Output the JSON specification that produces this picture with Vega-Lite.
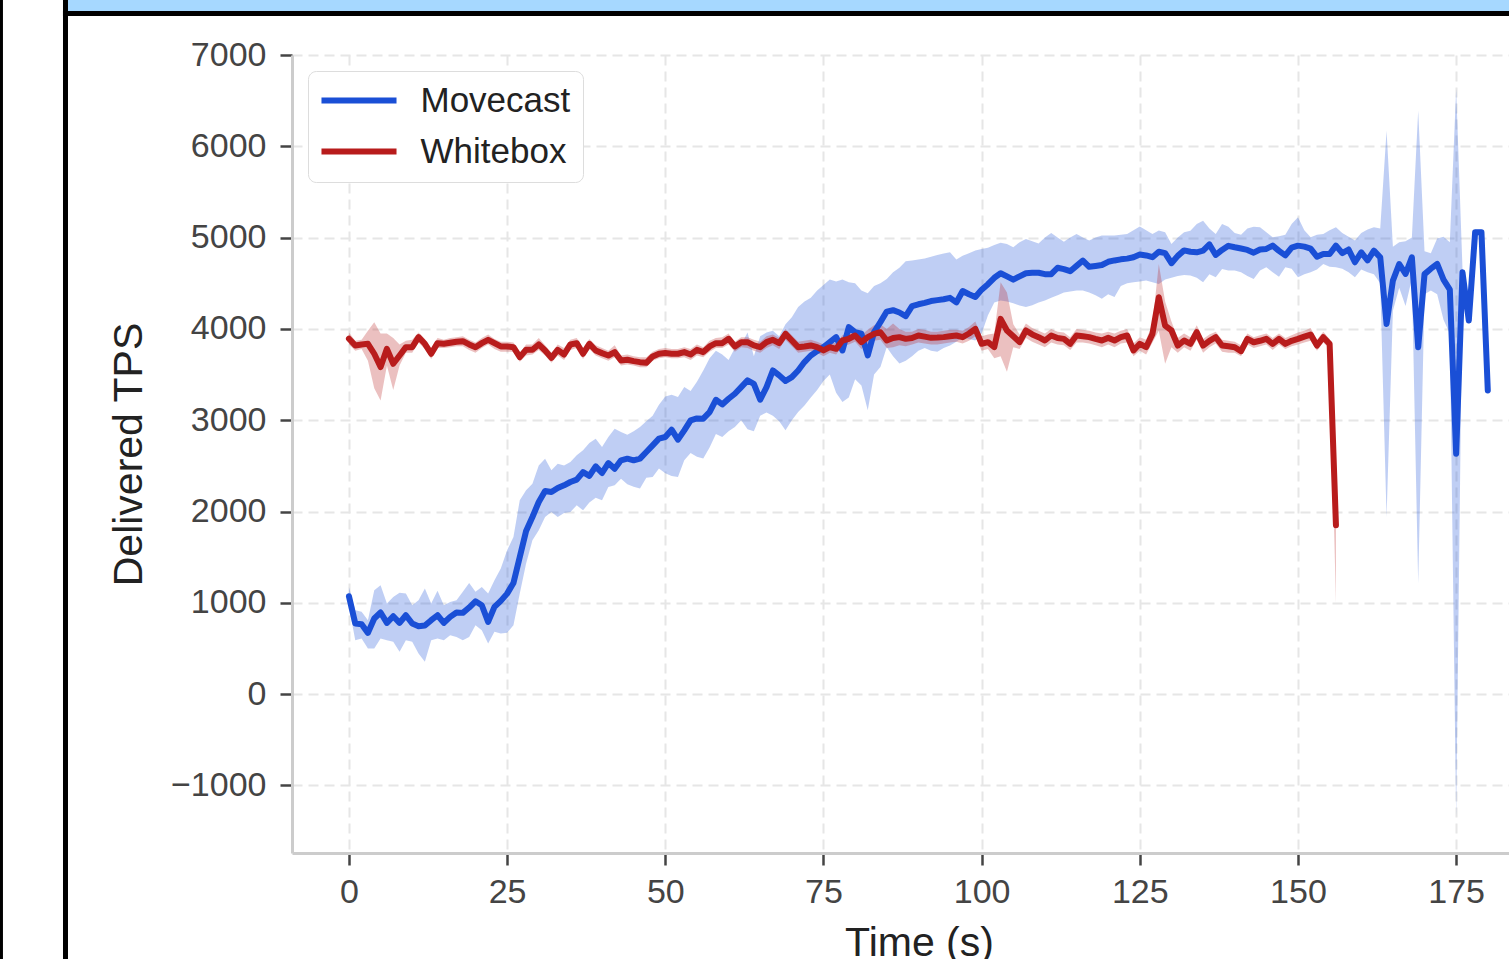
{
 "$schema": "https://vega.github.io/schema/vega-lite/v6.json",
 "width": 1254, "height": 798,
 "autosize": {"type": "none"},
 "padding": {"left": 292, "top": 55, "right": -37, "bottom": 106},
 "background": "white",
 "config": {
  "font": "Liberation Sans",
  "view": {"stroke": null},
  "axis": {"domainColor": "#cccccc", "domainWidth": 3, "tickColor": "#444444", "tickWidth": 2.5, "tickSize": 12,
   "labelFontSize": 34, "labelColor": "#444444", "grid": true, "gridColor": "#e6e6e6", "gridDash": [10, 6], "gridWidth": 2,
   "titleFontSize": 41, "titleFontWeight": "normal", "titleColor": "#222222"},
  "legend": {"symbolType": "M-2.68,0H2.68", "symbolStrokeWidth": 6, "symbolSize": 784, "symbolOffset": 21.5,
   "labelFontSize": 35, "labelColor": "#222222",
   "labelOffset": 44, "padding": 12, "rowPadding": 15, "fillColor": "white", "strokeColor": "#dddddd", "cornerRadius": 8}
 },
 "datasets": {
  "tps": [
{"series":"Movecast","t":0,"mean":1072,"lo":960,"hi":1174},
{"series":"Movecast","t":1,"mean":773,"lo":591,"hi":919},
{"series":"Movecast","t":2,"mean":766,"lo":609,"hi":901},
{"series":"Movecast","t":3,"mean":671,"lo":500,"hi":810},
{"series":"Movecast","t":4,"mean":828,"lo":500,"hi":1138},
{"series":"Movecast","t":5,"mean":894,"lo":609,"hi":1193},
{"series":"Movecast","t":6,"mean":780,"lo":591,"hi":992},
{"series":"Movecast","t":7,"mean":853,"lo":573,"hi":1065},
{"series":"Movecast","t":8,"mean":780,"lo":463,"hi":1109},
{"series":"Movecast","t":9,"mean":864,"lo":591,"hi":1101},
{"series":"Movecast","t":10,"mean":773,"lo":573,"hi":974},
{"series":"Movecast","t":11,"mean":744,"lo":445,"hi":1028},
{"series":"Movecast","t":12,"mean":751,"lo":354,"hi":1156},
{"series":"Movecast","t":13,"mean":810,"lo":591,"hi":992},
{"series":"Movecast","t":14,"mean":864,"lo":609,"hi":1131},
{"series":"Movecast","t":15,"mean":780,"lo":591,"hi":974},
{"series":"Movecast","t":16,"mean":846,"lo":646,"hi":1010},
{"series":"Movecast","t":17,"mean":894,"lo":627,"hi":1028},
{"series":"Movecast","t":18,"mean":890,"lo":591,"hi":1120},
{"series":"Movecast","t":19,"mean":948,"lo":627,"hi":1218},
{"series":"Movecast","t":20,"mean":1017,"lo":755,"hi":1120},
{"series":"Movecast","t":21,"mean":974,"lo":700,"hi":1174},
{"series":"Movecast","t":22,"mean":791,"lo":554,"hi":1101},
{"series":"Movecast","t":23,"mean":955,"lo":682,"hi":1247},
{"series":"Movecast","t":24,"mean":1021,"lo":664,"hi":1375},
{"series":"Movecast","t":25,"mean":1101,"lo":671,"hi":1575},
{"series":"Movecast","t":26,"mean":1218,"lo":755,"hi":1721},
{"series":"Movecast","t":27,"mean":1502,"lo":1101,"hi":2123},
{"series":"Movecast","t":28,"mean":1787,"lo":1430,"hi":2232},
{"series":"Movecast","t":29,"mean":1940,"lo":1685,"hi":2305},
{"series":"Movecast","t":30,"mean":2104,"lo":1794,"hi":2505},
{"series":"Movecast","t":31,"mean":2224,"lo":1940,"hi":2578},
{"series":"Movecast","t":32,"mean":2213,"lo":1995,"hi":2451},
{"series":"Movecast","t":33,"mean":2257,"lo":1940,"hi":2524},
{"series":"Movecast","t":34,"mean":2287,"lo":1984,"hi":2505},
{"series":"Movecast","t":35,"mean":2323,"lo":1995,"hi":2542},
{"series":"Movecast","t":36,"mean":2349,"lo":2068,"hi":2615},
{"series":"Movecast","t":37,"mean":2432,"lo":2013,"hi":2670},
{"series":"Movecast","t":38,"mean":2390,"lo":2100,"hi":2750},
{"series":"Movecast","t":39,"mean":2495,"lo":2150,"hi":2798},
{"series":"Movecast","t":40,"mean":2422,"lo":2123,"hi":2706},
{"series":"Movecast","t":41,"mean":2531,"lo":2269,"hi":2816},
{"series":"Movecast","t":42,"mean":2469,"lo":2287,"hi":2907},
{"series":"Movecast","t":43,"mean":2561,"lo":2360,"hi":2871},
{"series":"Movecast","t":44,"mean":2579,"lo":2300,"hi":2840},
{"series":"Movecast","t":45,"mean":2561,"lo":2270,"hi":2880},
{"series":"Movecast","t":46,"mean":2579,"lo":2251,"hi":2925},
{"series":"Movecast","t":47,"mean":2652,"lo":2370,"hi":2990},
{"series":"Movecast","t":48,"mean":2725,"lo":2378,"hi":3050},
{"series":"Movecast","t":49,"mean":2798,"lo":2470,"hi":3170},
{"series":"Movecast","t":50,"mean":2816,"lo":2420,"hi":3260},
{"series":"Movecast","t":51,"mean":2896,"lo":2390,"hi":3280},
{"series":"Movecast","t":52,"mean":2787,"lo":2378,"hi":3254},
{"series":"Movecast","t":53,"mean":2889,"lo":2561,"hi":3363},
{"series":"Movecast","t":54,"mean":2998,"lo":2640,"hi":3320},
{"series":"Movecast","t":55,"mean":3020,"lo":2600,"hi":3420},
{"series":"Movecast","t":56,"mean":3017,"lo":2580,"hi":3545},
{"series":"Movecast","t":57,"mean":3089,"lo":2700,"hi":3680},
{"series":"Movecast","t":58,"mean":3224,"lo":2850,"hi":3760},
{"series":"Movecast","t":59,"mean":3173,"lo":2816,"hi":3720},
{"series":"Movecast","t":60,"mean":3235,"lo":2880,"hi":3660},
{"series":"Movecast","t":61,"mean":3290,"lo":2925,"hi":3790},
{"series":"Movecast","t":62,"mean":3363,"lo":3000,"hi":3830},
{"series":"Movecast","t":63,"mean":3436,"lo":2900,"hi":3960},
{"series":"Movecast","t":64,"mean":3399,"lo":2880,"hi":3700},
{"series":"Movecast","t":65,"mean":3224,"lo":3050,"hi":3920},
{"series":"Movecast","t":66,"mean":3363,"lo":3085,"hi":3960},
{"series":"Movecast","t":67,"mean":3545,"lo":3050,"hi":3980},
{"series":"Movecast","t":68,"mean":3491,"lo":2990,"hi":3920},
{"series":"Movecast","t":69,"mean":3429,"lo":2890,"hi":4050},
{"series":"Movecast","t":70,"mean":3472,"lo":3000,"hi":4129},
{"series":"Movecast","t":71,"mean":3545,"lo":3089,"hi":4240},
{"series":"Movecast","t":72,"mean":3637,"lo":3160,"hi":4300},
{"series":"Movecast","t":73,"mean":3709,"lo":3250,"hi":4340},
{"series":"Movecast","t":74,"mean":3757,"lo":3330,"hi":4420},
{"series":"Movecast","t":75,"mean":3801,"lo":3430,"hi":4480},
{"series":"Movecast","t":76,"mean":3855,"lo":3500,"hi":4540},
{"series":"Movecast","t":77,"mean":3910,"lo":3300,"hi":4520},
{"series":"Movecast","t":78,"mean":3764,"lo":3200,"hi":4540},
{"series":"Movecast","t":79,"mean":4019,"lo":3250,"hi":4510},
{"series":"Movecast","t":80,"mean":3965,"lo":3450,"hi":4500},
{"series":"Movecast","t":81,"mean":3947,"lo":3380,"hi":4420},
{"series":"Movecast","t":82,"mean":3709,"lo":3110,"hi":4390},
{"series":"Movecast","t":83,"mean":3965,"lo":3500,"hi":4470},
{"series":"Movecast","t":84,"mean":4074,"lo":3582,"hi":4500},
{"series":"Movecast","t":85,"mean":4190,"lo":3800,"hi":4548},
{"series":"Movecast","t":86,"mean":4205,"lo":3700,"hi":4620},
{"series":"Movecast","t":87,"mean":4180,"lo":3620,"hi":4670},
{"series":"Movecast","t":88,"mean":4140,"lo":3650,"hi":4740},
{"series":"Movecast","t":89,"mean":4250,"lo":3700,"hi":4750},
{"series":"Movecast","t":90,"mean":4270,"lo":3760,"hi":4760},
{"series":"Movecast","t":91,"mean":4285,"lo":3790,"hi":4770},
{"series":"Movecast","t":92,"mean":4305,"lo":3760,"hi":4790},
{"series":"Movecast","t":93,"mean":4315,"lo":3750,"hi":4810},
{"series":"Movecast","t":94,"mean":4325,"lo":3790,"hi":4825},
{"series":"Movecast","t":95,"mean":4340,"lo":3818,"hi":4840},
{"series":"Movecast","t":96,"mean":4290,"lo":3860,"hi":4760},
{"series":"Movecast","t":97,"mean":4415,"lo":3910,"hi":4800},
{"series":"Movecast","t":98,"mean":4380,"lo":3890,"hi":4830},
{"series":"Movecast","t":99,"mean":4350,"lo":3873,"hi":4860},
{"series":"Movecast","t":100,"mean":4430,"lo":3950,"hi":4876},
{"series":"Movecast","t":101,"mean":4490,"lo":4150,"hi":4890},
{"series":"Movecast","t":102,"mean":4560,"lo":4290,"hi":4920},
{"series":"Movecast","t":103,"mean":4610,"lo":4311,"hi":4945},
{"series":"Movecast","t":104,"mean":4575,"lo":4300,"hi":4930},
{"series":"Movecast","t":105,"mean":4540,"lo":4280,"hi":4894},
{"series":"Movecast","t":106,"mean":4575,"lo":4256,"hi":4950},
{"series":"Movecast","t":107,"mean":4610,"lo":4240,"hi":4986},
{"series":"Movecast","t":108,"mean":4615,"lo":4260,"hi":4960},
{"series":"Movecast","t":109,"mean":4615,"lo":4290,"hi":4935},
{"series":"Movecast","t":110,"mean":4600,"lo":4310,"hi":5000},
{"series":"Movecast","t":111,"mean":4600,"lo":4340,"hi":5050},
{"series":"Movecast","t":112,"mean":4670,"lo":4370,"hi":5000},
{"series":"Movecast","t":113,"mean":4655,"lo":4400,"hi":4955},
{"series":"Movecast","t":114,"mean":4632,"lo":4410,"hi":5000},
{"series":"Movecast","t":115,"mean":4690,"lo":4420,"hi":5040},
{"series":"Movecast","t":116,"mean":4749,"lo":4420,"hi":5000},
{"series":"Movecast","t":117,"mean":4680,"lo":4400,"hi":4967},
{"series":"Movecast","t":118,"mean":4690,"lo":4370,"hi":5000},
{"series":"Movecast","t":119,"mean":4700,"lo":4330,"hi":5022},
{"series":"Movecast","t":120,"mean":4735,"lo":4380,"hi":5022},
{"series":"Movecast","t":121,"mean":4750,"lo":4350,"hi":5022},
{"series":"Movecast","t":122,"mean":4762,"lo":4470,"hi":5030},
{"series":"Movecast","t":123,"mean":4770,"lo":4500,"hi":5040},
{"series":"Movecast","t":124,"mean":4785,"lo":4511,"hi":5080},
{"series":"Movecast","t":125,"mean":4815,"lo":4520,"hi":5121},
{"series":"Movecast","t":126,"mean":4805,"lo":4530,"hi":5080},
{"series":"Movecast","t":127,"mean":4785,"lo":4510,"hi":5040},
{"series":"Movecast","t":128,"mean":4845,"lo":4493,"hi":5077},
{"series":"Movecast","t":129,"mean":4830,"lo":4540,"hi":5060},
{"series":"Movecast","t":130,"mean":4720,"lo":4560,"hi":4931},
{"series":"Movecast","t":131,"mean":4800,"lo":4580,"hi":5000},
{"series":"Movecast","t":132,"mean":4860,"lo":4590,"hi":5059},
{"series":"Movecast","t":133,"mean":4845,"lo":4584,"hi":5076},
{"series":"Movecast","t":134,"mean":4839,"lo":4560,"hi":5150},
{"series":"Movecast","t":135,"mean":4857,"lo":4511,"hi":5186},
{"series":"Movecast","t":136,"mean":4925,"lo":4600,"hi":5100},
{"series":"Movecast","t":137,"mean":4810,"lo":4566,"hi":5040},
{"series":"Movecast","t":138,"mean":4865,"lo":4657,"hi":5150},
{"series":"Movecast","t":139,"mean":4910,"lo":4640,"hi":5120},
{"series":"Movecast","t":140,"mean":4894,"lo":4639,"hi":5050},
{"series":"Movecast","t":141,"mean":4880,"lo":4620,"hi":5030},
{"series":"Movecast","t":142,"mean":4865,"lo":4580,"hi":5100},
{"series":"Movecast","t":143,"mean":4835,"lo":4547,"hi":5120},
{"series":"Movecast","t":144,"mean":4870,"lo":4640,"hi":5113},
{"series":"Movecast","t":145,"mean":4876,"lo":4675,"hi":5060},
{"series":"Movecast","t":146,"mean":4912,"lo":4620,"hi":5003},
{"series":"Movecast","t":147,"mean":4855,"lo":4570,"hi":5015},
{"series":"Movecast","t":148,"mean":4805,"lo":4675,"hi":5030},
{"series":"Movecast","t":149,"mean":4890,"lo":4660,"hi":5150},
{"series":"Movecast","t":150,"mean":4912,"lo":4566,"hi":5222},
{"series":"Movecast","t":151,"mean":4901,"lo":4600,"hi":5080},
{"series":"Movecast","t":152,"mean":4880,"lo":4620,"hi":5003},
{"series":"Movecast","t":153,"mean":4790,"lo":4650,"hi":5030},
{"series":"Movecast","t":154,"mean":4821,"lo":4711,"hi":5040},
{"series":"Movecast","t":155,"mean":4821,"lo":4680,"hi":5080},
{"series":"Movecast","t":156,"mean":4912,"lo":4675,"hi":5113},
{"series":"Movecast","t":157,"mean":4830,"lo":4660,"hi":5050},
{"series":"Movecast","t":158,"mean":4870,"lo":4620,"hi":5010},
{"series":"Movecast","t":159,"mean":4730,"lo":4566,"hi":4967},
{"series":"Movecast","t":160,"mean":4839,"lo":4650,"hi":5050},
{"series":"Movecast","t":161,"mean":4750,"lo":4620,"hi":5090},
{"series":"Movecast","t":162,"mean":4857,"lo":4600,"hi":5113},
{"series":"Movecast","t":163,"mean":4784,"lo":4500,"hi":5100},
{"series":"Movecast","t":164,"mean":4055,"lo":1940,"hi":6170},
{"series":"Movecast","t":165,"mean":4529,"lo":4200,"hi":4900},
{"series":"Movecast","t":166,"mean":4711,"lo":4450,"hi":4950},
{"series":"Movecast","t":167,"mean":4602,"lo":4250,"hi":4960},
{"series":"Movecast","t":168,"mean":4784,"lo":4550,"hi":5000},
{"series":"Movecast","t":169,"mean":3800,"lo":1211,"hi":6390},
{"series":"Movecast","t":170,"mean":4600,"lo":4380,"hi":4850},
{"series":"Movecast","t":171,"mean":4660,"lo":4420,"hi":4830},
{"series":"Movecast","t":172,"mean":4711,"lo":4380,"hi":4990},
{"series":"Movecast","t":173,"mean":4540,"lo":4100,"hi":5010},
{"series":"Movecast","t":174,"mean":4430,"lo":3950,"hi":4950},
{"series":"Movecast","t":175,"mean":2633,"lo":-1342,"hi":6627},
{"series":"Movecast","t":176,"mean":4620,"lo":4580,"hi":4660},
{"series":"Movecast","t":177,"mean":4091,"lo":4050,"hi":4130},
{"series":"Movecast","t":178,"mean":5058,"lo":5030,"hi":5090},
{"series":"Movecast","t":179,"mean":5058,"lo":5030,"hi":5090},
{"series":"Movecast","t":180,"mean":3326,"lo":3290,"hi":3360},
{"series":"Whitebox","t":0,"mean":3892,"lo":3830,"hi":3960},
{"series":"Whitebox","t":1,"mean":3819,"lo":3760,"hi":3870},
{"series":"Whitebox","t":2,"mean":3830,"lo":3780,"hi":3880},
{"series":"Whitebox","t":3,"mean":3837,"lo":3650,"hi":3980},
{"series":"Whitebox","t":4,"mean":3728,"lo":3350,"hi":4074},
{"series":"Whitebox","t":5,"mean":3582,"lo":3217,"hi":3950},
{"series":"Whitebox","t":6,"mean":3782,"lo":3600,"hi":3950},
{"series":"Whitebox","t":7,"mean":3618,"lo":3330,"hi":3900},
{"series":"Whitebox","t":8,"mean":3709,"lo":3600,"hi":3830},
{"series":"Whitebox","t":9,"mean":3800,"lo":3740,"hi":3870},
{"series":"Whitebox","t":10,"mean":3800,"lo":3740,"hi":3880},
{"series":"Whitebox","t":11,"mean":3910,"lo":3850,"hi":3960},
{"series":"Whitebox","t":12,"mean":3837,"lo":3780,"hi":3890},
{"series":"Whitebox","t":13,"mean":3728,"lo":3670,"hi":3790},
{"series":"Whitebox","t":14,"mean":3844,"lo":3790,"hi":3900},
{"series":"Whitebox","t":15,"mean":3837,"lo":3790,"hi":3880},
{"series":"Whitebox","t":16,"mean":3848,"lo":3800,"hi":3900},
{"series":"Whitebox","t":17,"mean":3859,"lo":3810,"hi":3910},
{"series":"Whitebox","t":18,"mean":3866,"lo":3810,"hi":3920},
{"series":"Whitebox","t":19,"mean":3830,"lo":3770,"hi":3880},
{"series":"Whitebox","t":20,"mean":3800,"lo":3740,"hi":3850},
{"series":"Whitebox","t":21,"mean":3844,"lo":3790,"hi":3900},
{"series":"Whitebox","t":22,"mean":3881,"lo":3830,"hi":3940},
{"series":"Whitebox","t":23,"mean":3844,"lo":3780,"hi":3890},
{"series":"Whitebox","t":24,"mean":3808,"lo":3750,"hi":3860},
{"series":"Whitebox","t":25,"mean":3808,"lo":3750,"hi":3860},
{"series":"Whitebox","t":26,"mean":3800,"lo":3750,"hi":3850},
{"series":"Whitebox","t":27,"mean":3691,"lo":3640,"hi":3740},
{"series":"Whitebox","t":28,"mean":3771,"lo":3710,"hi":3830},
{"series":"Whitebox","t":29,"mean":3771,"lo":3720,"hi":3830},
{"series":"Whitebox","t":30,"mean":3830,"lo":3770,"hi":3900},
{"series":"Whitebox","t":31,"mean":3764,"lo":3710,"hi":3820},
{"series":"Whitebox","t":32,"mean":3684,"lo":3630,"hi":3740},
{"series":"Whitebox","t":33,"mean":3771,"lo":3710,"hi":3830},
{"series":"Whitebox","t":34,"mean":3720,"lo":3660,"hi":3790},
{"series":"Whitebox","t":35,"mean":3830,"lo":3770,"hi":3880},
{"series":"Whitebox","t":36,"mean":3844,"lo":3790,"hi":3900},
{"series":"Whitebox","t":37,"mean":3728,"lo":3670,"hi":3790},
{"series":"Whitebox","t":38,"mean":3837,"lo":3780,"hi":3890},
{"series":"Whitebox","t":39,"mean":3764,"lo":3710,"hi":3820},
{"series":"Whitebox","t":40,"mean":3735,"lo":3680,"hi":3790},
{"series":"Whitebox","t":41,"mean":3709,"lo":3650,"hi":3760},
{"series":"Whitebox","t":42,"mean":3746,"lo":3690,"hi":3820},
{"series":"Whitebox","t":43,"mean":3655,"lo":3600,"hi":3710},
{"series":"Whitebox","t":44,"mean":3662,"lo":3610,"hi":3720},
{"series":"Whitebox","t":45,"mean":3647,"lo":3600,"hi":3700},
{"series":"Whitebox","t":46,"mean":3636,"lo":3580,"hi":3690},
{"series":"Whitebox","t":47,"mean":3629,"lo":3580,"hi":3690},
{"series":"Whitebox","t":48,"mean":3698,"lo":3650,"hi":3750},
{"series":"Whitebox","t":49,"mean":3728,"lo":3680,"hi":3780},
{"series":"Whitebox","t":50,"mean":3735,"lo":3690,"hi":3790},
{"series":"Whitebox","t":51,"mean":3728,"lo":3680,"hi":3780},
{"series":"Whitebox","t":52,"mean":3728,"lo":3680,"hi":3780},
{"series":"Whitebox","t":53,"mean":3746,"lo":3690,"hi":3800},
{"series":"Whitebox","t":54,"mean":3720,"lo":3660,"hi":3780},
{"series":"Whitebox","t":55,"mean":3771,"lo":3710,"hi":3830},
{"series":"Whitebox","t":56,"mean":3746,"lo":3690,"hi":3800},
{"series":"Whitebox","t":57,"mean":3808,"lo":3750,"hi":3870},
{"series":"Whitebox","t":58,"mean":3844,"lo":3790,"hi":3900},
{"series":"Whitebox","t":59,"mean":3844,"lo":3790,"hi":3910},
{"series":"Whitebox","t":60,"mean":3892,"lo":3830,"hi":3950},
{"series":"Whitebox","t":61,"mean":3808,"lo":3750,"hi":3860},
{"series":"Whitebox","t":62,"mean":3855,"lo":3800,"hi":3910},
{"series":"Whitebox","t":63,"mean":3855,"lo":3790,"hi":3910},
{"series":"Whitebox","t":64,"mean":3819,"lo":3760,"hi":3880},
{"series":"Whitebox","t":65,"mean":3800,"lo":3740,"hi":3860},
{"series":"Whitebox","t":66,"mean":3855,"lo":3790,"hi":3920},
{"series":"Whitebox","t":67,"mean":3881,"lo":3820,"hi":3940},
{"series":"Whitebox","t":68,"mean":3844,"lo":3780,"hi":3900},
{"series":"Whitebox","t":69,"mean":3946,"lo":3880,"hi":4000},
{"series":"Whitebox","t":70,"mean":3873,"lo":3810,"hi":3930},
{"series":"Whitebox","t":71,"mean":3800,"lo":3740,"hi":3860},
{"series":"Whitebox","t":72,"mean":3808,"lo":3750,"hi":3870},
{"series":"Whitebox","t":73,"mean":3819,"lo":3760,"hi":3880},
{"series":"Whitebox","t":74,"mean":3800,"lo":3740,"hi":3860},
{"series":"Whitebox","t":75,"mean":3764,"lo":3700,"hi":3830},
{"series":"Whitebox","t":76,"mean":3800,"lo":3740,"hi":3860},
{"series":"Whitebox","t":77,"mean":3782,"lo":3720,"hi":3840},
{"series":"Whitebox","t":78,"mean":3873,"lo":3810,"hi":3930},
{"series":"Whitebox","t":79,"mean":3892,"lo":3830,"hi":3950},
{"series":"Whitebox","t":80,"mean":3928,"lo":3860,"hi":3990},
{"series":"Whitebox","t":81,"mean":3855,"lo":3780,"hi":3930},
{"series":"Whitebox","t":82,"mean":3910,"lo":3840,"hi":3990},
{"series":"Whitebox","t":83,"mean":3946,"lo":3870,"hi":4040},
{"series":"Whitebox","t":84,"mean":3964,"lo":3880,"hi":4050},
{"series":"Whitebox","t":85,"mean":3873,"lo":3790,"hi":4000},
{"series":"Whitebox","t":86,"mean":3900,"lo":3800,"hi":4060},
{"series":"Whitebox","t":87,"mean":3910,"lo":3820,"hi":4000},
{"series":"Whitebox","t":88,"mean":3891,"lo":3810,"hi":3970},
{"series":"Whitebox","t":89,"mean":3900,"lo":3830,"hi":3970},
{"series":"Whitebox","t":90,"mean":3928,"lo":3850,"hi":4000},
{"series":"Whitebox","t":91,"mean":3915,"lo":3840,"hi":3990},
{"series":"Whitebox","t":92,"mean":3902,"lo":3830,"hi":3970},
{"series":"Whitebox","t":93,"mean":3905,"lo":3830,"hi":3970},
{"series":"Whitebox","t":94,"mean":3910,"lo":3840,"hi":3980},
{"series":"Whitebox","t":95,"mean":3920,"lo":3850,"hi":3990},
{"series":"Whitebox","t":96,"mean":3928,"lo":3860,"hi":3990},
{"series":"Whitebox","t":97,"mean":3910,"lo":3840,"hi":3980},
{"series":"Whitebox","t":98,"mean":3950,"lo":3870,"hi":4020},
{"series":"Whitebox","t":99,"mean":4001,"lo":3920,"hi":4080},
{"series":"Whitebox","t":100,"mean":3837,"lo":3760,"hi":3920},
{"series":"Whitebox","t":101,"mean":3855,"lo":3780,"hi":3940},
{"series":"Whitebox","t":102,"mean":3800,"lo":3680,"hi":3950},
{"series":"Whitebox","t":103,"mean":4110,"lo":3700,"hi":4510},
{"series":"Whitebox","t":104,"mean":3983,"lo":3530,"hi":4400},
{"series":"Whitebox","t":105,"mean":3920,"lo":3800,"hi":4050},
{"series":"Whitebox","t":106,"mean":3855,"lo":3780,"hi":3940},
{"series":"Whitebox","t":107,"mean":3983,"lo":3900,"hi":4060},
{"series":"Whitebox","t":108,"mean":3940,"lo":3860,"hi":4010},
{"series":"Whitebox","t":109,"mean":3910,"lo":3830,"hi":3980},
{"series":"Whitebox","t":110,"mean":3873,"lo":3800,"hi":3950},
{"series":"Whitebox","t":111,"mean":3928,"lo":3850,"hi":4000},
{"series":"Whitebox","t":112,"mean":3900,"lo":3830,"hi":3970},
{"series":"Whitebox","t":113,"mean":3891,"lo":3820,"hi":3960},
{"series":"Whitebox","t":114,"mean":3837,"lo":3770,"hi":3910},
{"series":"Whitebox","t":115,"mean":3928,"lo":3850,"hi":4000},
{"series":"Whitebox","t":116,"mean":3920,"lo":3850,"hi":3990},
{"series":"Whitebox","t":117,"mean":3910,"lo":3840,"hi":3980},
{"series":"Whitebox","t":118,"mean":3890,"lo":3820,"hi":3960},
{"series":"Whitebox","t":119,"mean":3873,"lo":3800,"hi":3950},
{"series":"Whitebox","t":120,"mean":3902,"lo":3830,"hi":3970},
{"series":"Whitebox","t":121,"mean":3873,"lo":3800,"hi":3950},
{"series":"Whitebox","t":122,"mean":3910,"lo":3840,"hi":3980},
{"series":"Whitebox","t":123,"mean":3928,"lo":3850,"hi":4000},
{"series":"Whitebox","t":124,"mean":3764,"lo":3700,"hi":3840},
{"series":"Whitebox","t":125,"mean":3837,"lo":3760,"hi":3910},
{"series":"Whitebox","t":126,"mean":3800,"lo":3720,"hi":3880},
{"series":"Whitebox","t":127,"mean":3946,"lo":3850,"hi":4050},
{"series":"Whitebox","t":128,"mean":4347,"lo":3980,"hi":4712},
{"series":"Whitebox","t":129,"mean":4037,"lo":3618,"hi":4300},
{"series":"Whitebox","t":130,"mean":3983,"lo":3800,"hi":4080},
{"series":"Whitebox","t":131,"mean":3818,"lo":3740,"hi":3900},
{"series":"Whitebox","t":132,"mean":3873,"lo":3800,"hi":3950},
{"series":"Whitebox","t":133,"mean":3837,"lo":3760,"hi":3910},
{"series":"Whitebox","t":134,"mean":3964,"lo":3880,"hi":4040},
{"series":"Whitebox","t":135,"mean":3818,"lo":3740,"hi":3890},
{"series":"Whitebox","t":136,"mean":3870,"lo":3800,"hi":3940},
{"series":"Whitebox","t":137,"mean":3909,"lo":3840,"hi":3970},
{"series":"Whitebox","t":138,"mean":3818,"lo":3750,"hi":3880},
{"series":"Whitebox","t":139,"mean":3810,"lo":3740,"hi":3870},
{"series":"Whitebox","t":140,"mean":3800,"lo":3740,"hi":3860},
{"series":"Whitebox","t":141,"mean":3756,"lo":3700,"hi":3820},
{"series":"Whitebox","t":142,"mean":3891,"lo":3830,"hi":3950},
{"series":"Whitebox","t":143,"mean":3854,"lo":3790,"hi":3910},
{"series":"Whitebox","t":144,"mean":3870,"lo":3810,"hi":3930},
{"series":"Whitebox","t":145,"mean":3891,"lo":3830,"hi":3950},
{"series":"Whitebox","t":146,"mean":3836,"lo":3770,"hi":3900},
{"series":"Whitebox","t":147,"mean":3891,"lo":3830,"hi":3950},
{"series":"Whitebox","t":148,"mean":3836,"lo":3780,"hi":3900},
{"series":"Whitebox","t":149,"mean":3870,"lo":3810,"hi":3930},
{"series":"Whitebox","t":150,"mean":3891,"lo":3830,"hi":3960},
{"series":"Whitebox","t":151,"mean":3916,"lo":3850,"hi":3980},
{"series":"Whitebox","t":152,"mean":3938,"lo":3870,"hi":4010},
{"series":"Whitebox","t":153,"mean":3818,"lo":3760,"hi":3880},
{"series":"Whitebox","t":154,"mean":3909,"lo":3850,"hi":3970},
{"series":"Whitebox","t":155,"mean":3836,"lo":3780,"hi":3890},
{"series":"Whitebox","t":156,"mean":1850,"lo":992,"hi":1950}
  ]
 },
 "layer": [
  {"data": {"values": [{}]}, "mark": {"type": "rule", "color": "black", "strokeWidth": 4, "clip": false},
   "encoding": {"x": {"datum": -55.0}, "y": {"datum": 7700}, "y2": {"datum": -3000}}},
  {"data": {"values": [{}]}, "mark": {"type": "rule", "color": "#a6d8ff", "strokeWidth": 12, "clip": false},
   "encoding": {"x": {"datum": -44.5}, "x2": {"datum": 200}, "y": {"datum": 7542}}},
  {"data": {"values": [{}]}, "mark": {"type": "rule", "color": "black", "strokeWidth": 5, "clip": false},
   "encoding": {"x": {"datum": -45.2}, "x2": {"datum": 200}, "y": {"datum": 7455}}},
  {"data": {"values": [{}]}, "mark": {"type": "rule", "color": "black", "strokeWidth": 5, "clip": false},
   "encoding": {"x": {"datum": -44.8}, "y": {"datum": 7700}, "y2": {"datum": -3000}}},
  {"data": {"name": "tps"},
   "transform": [{"filter": "datum.series === 'Movecast'"}],
   "mark": {"type": "area", "color": "#1a4fd6", "opacity": 0.28},
   "encoding": {
    "x": {"field": "t", "type": "quantitative", "title": "Time (s)",
      "scale": {"domain": [-9, 189.2], "nice": false, "zero": false},
      "axis": {"values": [0, 25, 50, 75, 100, 125, 150, 175], "format": "d", "labelPadding": 10, "titlePadding": 14}},
    "y": {"field": "lo", "type": "quantitative", "title": "Delivered TPS",
      "scale": {"domain": [-1740, 7000], "nice": false, "zero": false},
      "axis": {"values": [-1000, 0, 1000, 2000, 3000, 4000, 5000, 6000, 7000], "format": "d", "labelPadding": 14, "titlePadding": 20}},
    "y2": {"field": "hi"}
   }},
  {"data": {"name": "tps"},
   "transform": [{"filter": "datum.series === 'Whitebox'"}],
   "mark": {"type": "area", "color": "#b81c1c", "opacity": 0.28},
   "encoding": {
    "x": {"field": "t", "type": "quantitative"},
    "y": {"field": "lo", "type": "quantitative"},
    "y2": {"field": "hi"}
   }},
  {"data": {"name": "tps"},
   "mark": {"type": "line", "strokeWidth": 6, "strokeCap": "round", "strokeJoin": "round"},
   "encoding": {
    "x": {"field": "t", "type": "quantitative"},
    "y": {"field": "mean", "type": "quantitative"},
    "color": {"field": "series", "type": "nominal", "title": null,
      "scale": {"domain": ["Movecast", "Whitebox"], "range": ["#1a4fd6", "#b81c1c"]},
      "legend": {"orient": "top-left", "offset": 16}}
   }}
 ]
}
